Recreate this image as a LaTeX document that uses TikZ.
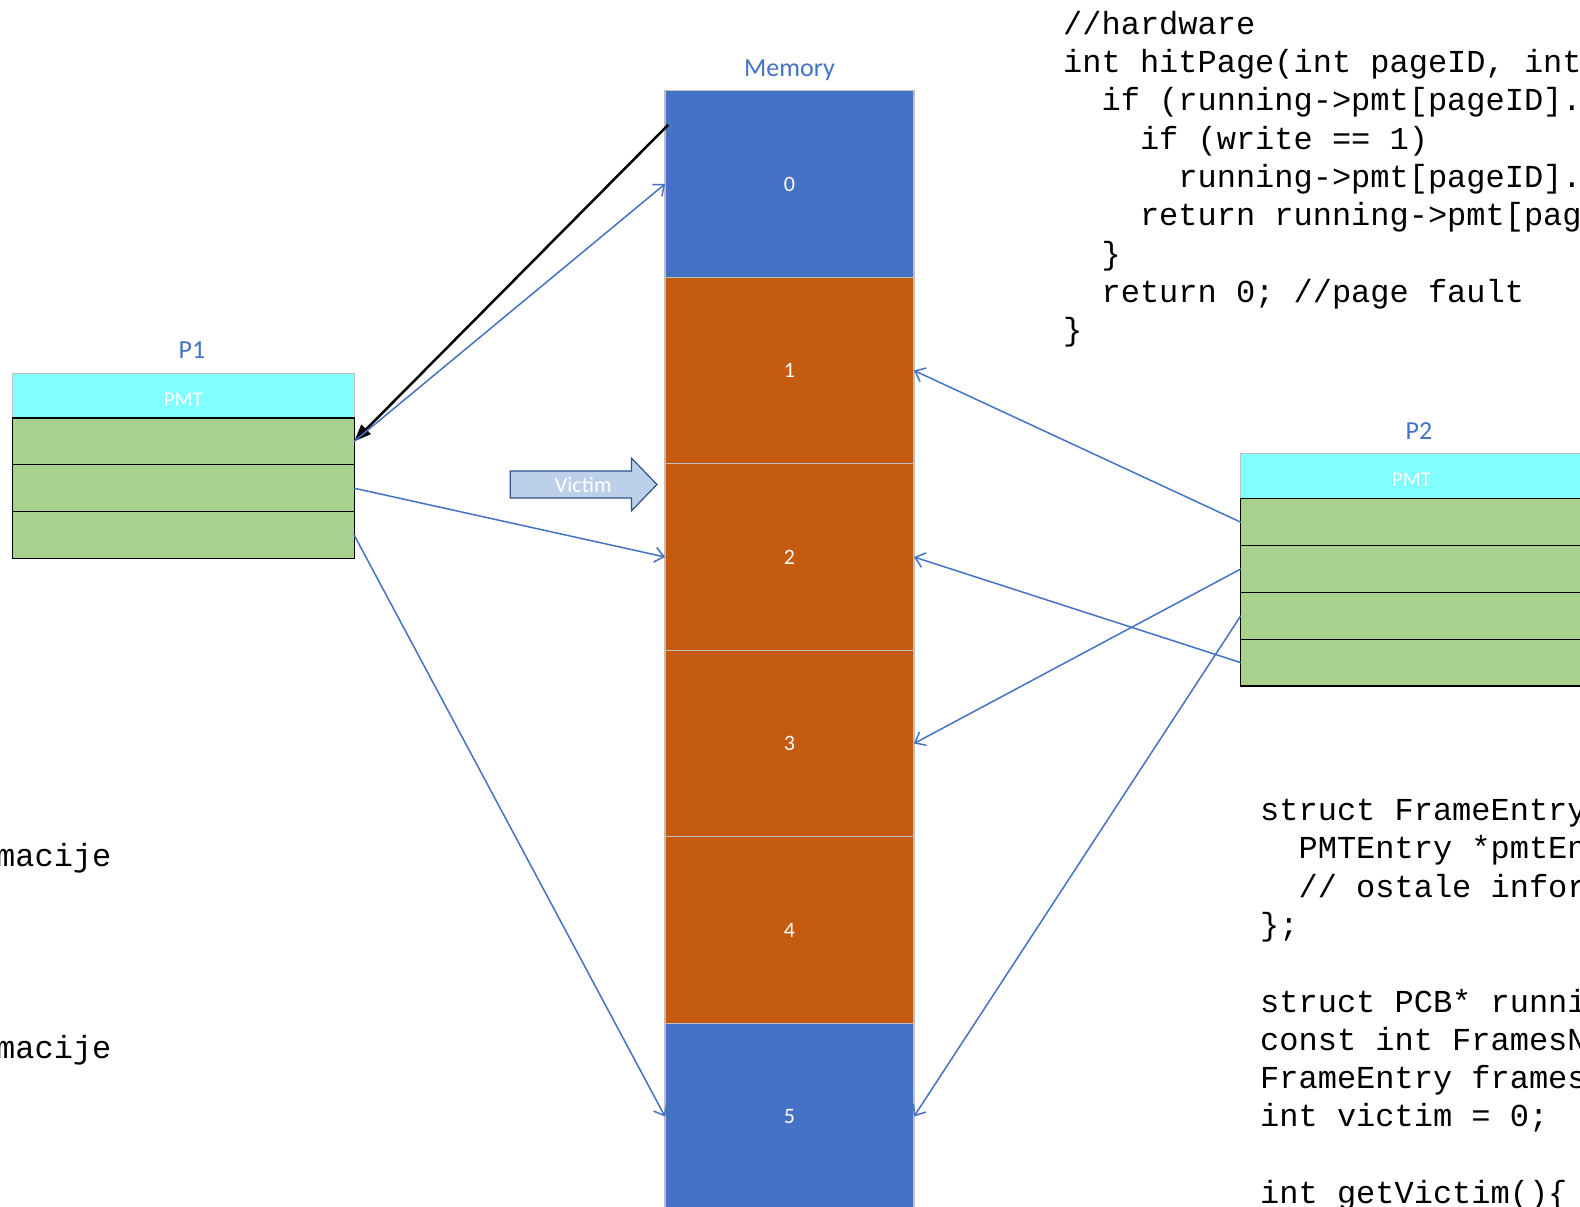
\documentclass[tikz,border=0pt]{standalone}
\usepackage{fontspec}
\setmainfont{Carlito}
\newfontfamily\codefont{Liberation Mono}
\usetikzlibrary{arrows.meta,positioning,shapes.arrows}
\definecolor{memblue}{RGB}{68,114,196}
\definecolor{memorange}{RGB}{197,90,17}
\definecolor{pmtcyan}{RGB}{127,255,255}
\definecolor{rowgreen}{RGB}{169,209,142}
\definecolor{victimfill}{RGB}{189,208,233}
\definecolor{victimedge}{RGB}{47,82,143}
\definecolor{frameedge}{RGB}{191,191,191}

\begin{document}
\begin{tikzpicture}[
    x=1pt, y=-1pt,
    memframe/.style={draw=frameedge,line width=1.2pt,outer sep=0pt,inner sep=0pt,
      minimum width=249pt,minimum height=186.5pt,text=white,
      font=\fontsize{22}{26}\selectfont},
    pmthead/.style={draw=frameedge,fill=pmtcyan,line width=1pt,outer sep=0pt,
      minimum width=341.5pt,minimum height=45pt,text=white,text height=21pt,
      font=\fontsize{21}{25}\selectfont},
    pmtrow/.style={draw=black,fill=rowgreen,line width=1.3pt,outer sep=0pt,
      minimum width=341.5pt,minimum height=46.8pt},
    boxtitle/.style={text=memblue,inner sep=0pt,font=\fontsize{26}{31}\selectfont},
    victim/.style={single arrow,draw=victimedge,fill=victimfill,line width=1.2pt,
      text=white,font=\fontsize{22}{26}\selectfont,minimum height=146.7pt,
      text height=15pt,text depth=0pt,inner ysep=5.35pt,inner xsep=0pt,
      single arrow head extend=12.85pt,single arrow head indent=0pt,
      single arrow tip angle=92},
    codeblock/.style={align=left,inner sep=0pt,anchor=north west,
      font=\codefont\fontsize{32}{38.3}\selectfont},
    pagemap/.style={-{Straight Barb[length=9pt,width=15pt]},memblue,line width=1.5pt},
    evict/.style={-{Triangle[length=17pt,width=13pt]},black,line width=2.5pt}
  ]
  \path[use as bounding box,fill=white] (0,0) rectangle (1580,1207);

  % physical memory, one box per frame
  \node[memframe,fill=memblue] (f0) at (789.5,184) {0};
  \node[memframe,fill=memorange,below=0pt of f0] (f1) {1};
  \node[memframe,fill=memorange,below=0pt of f1] (f2) {2};
  \node[memframe,fill=memorange,below=0pt of f2] (f3) {3};
  \node[memframe,fill=memorange,below=0pt of f3] (f4) {4};
  \node[memframe,fill=memblue,below=0pt of f4] (f5) {5};
  \node[boxtitle,above=10pt of f0] (memtitle) {Memory};

  % page map tables
  \node[pmthead] (p1h) at (183.4,395.5) {PMT};
  \node[pmtrow,below=0pt of p1h] (p1r1) {};
  \node[pmtrow,below=0pt of p1r1] (p1r2) {};
  \node[pmtrow,below=0pt of p1r2] (p1r3) {};
  \node[boxtitle,above=14pt of p1h,xshift=8.5pt,text height=17pt] (p1t) {P1};

  \node[pmthead] (p2h) at (1411.5,476.3) {PMT};
  \node[pmtrow,below=0pt of p2h] (p2r1) {};
  \node[pmtrow,below=0pt of p2r1] (p2r2) {};
  \node[pmtrow,below=0pt of p2r2] (p2r3) {};
  \node[pmtrow,below=0pt of p2r3] (p2r4) {};
  \node[boxtitle,above=14pt of p2h,xshift=7.5pt,text height=17pt] (p2t) {P2};

  \node[victim] (vic) at (577.1,484.5) {\hspace*{12.4pt}Victim};

  % code listings
  \node[codeblock] (hwcode) at (1063,11) {//hardware\\int hitPage(int pageID, int\\~~if (running->pmt[pageID].\\~~~~if (write == 1)\\~~~~~~running->pmt[pageID].\\~~~~return running->pmt[pag\\~~\}\\~~return 0; //page fault\\\}};
  \node[codeblock] (framecode) at (1260,799) {struct FrameEntry\\~~PMTEntry *pmtEn\\~~// ostale infor\\\};\\~\\struct PCB* runni\\const int FramesN\\FrameEntry frames\\int victim = 0;\\~\\int getVictim()\{};
  \node[codeblock,anchor=base west] (info1) at (-4,866.5) {macije};
  \node[codeblock,anchor=base west] (info2) at (-4,1058) {macije};

  % mappings
  \coordinate (vsrc) at (668,125);
  \draw[evict] (vsrc) -- (p1r1.east);
  \draw[pagemap] (p1r1.east) -- (f0.west);
  \draw[pagemap] (p1r2.east) -- (f2.west);
  \draw[pagemap] (p1r3.east) -- (f5.west);
  \draw[pagemap] (p2r1.west) -- (f1.east);
  \draw[pagemap] (p2r2.west) -- (f3.east);
  \draw[pagemap] (p2r3.west) -- (f5.east);
  \draw[pagemap] (p2r4.west) -- (f2.east);
\end{tikzpicture}
\end{document}
